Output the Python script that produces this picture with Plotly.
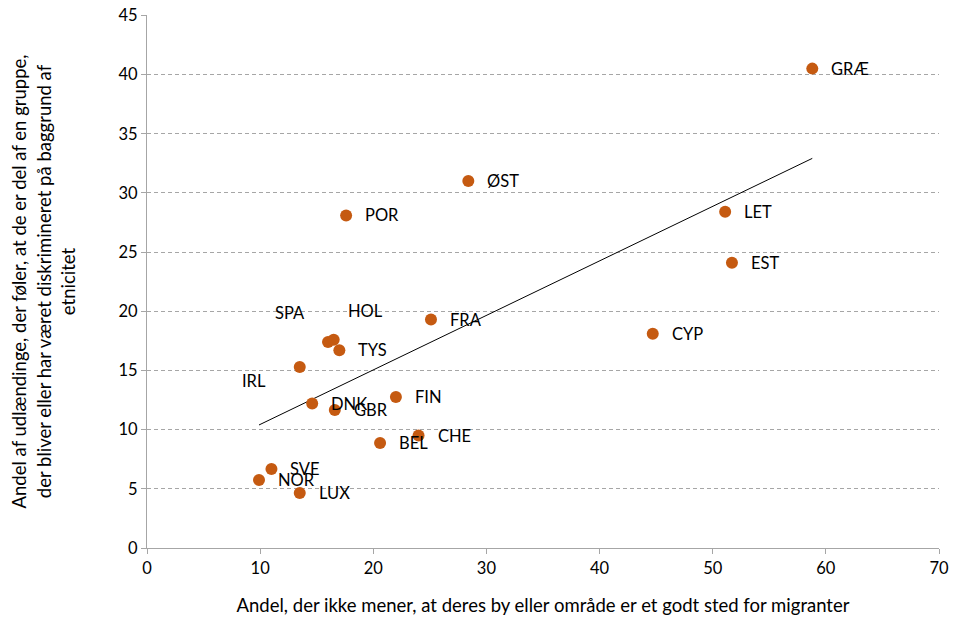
import numpy as np
import plotly.graph_objects as go

countries = ["GRÆ", "ØST", "POR", "LET", "EST", "FRA", "CYP", "SPA", "HOL", "TYS",
             "IRL", "DNK", "GBR", "FIN", "CHE", "BEL", "SVE", "NOR", "LUX"]
x_vals = [58.8, 28.4, 17.6, 51.1, 51.7, 25.1, 44.7, 16.0, 16.5, 17.0,
          13.5, 14.6, 16.6, 22.0, 24.0, 20.6, 11.0, 9.9, 13.5]
y_vals = [40.5, 31.0, 28.1, 28.4, 24.1, 19.3, 18.1, 17.4, 17.6, 16.7,
          15.3, 12.2, 11.65, 12.75, 9.5, 8.87, 6.67, 5.74, 4.64]

x_title = "Andel, der ikke mener, at deres by eller område er et godt sted for migranter"
y_title = ("Andel af udlændinge, der føler, at de er del af en gruppe,<br>"
           "der bliver eller har været diskrimineret på baggrund af<br>etnicitet")

# label offsets (pixels) for the few labels moved away from the default spot
label_shift = {"SPA": (-55, 29), "HOL": (12, 29), "IRL": (-60, -14)}

FONT = "Lato"
FS = 16.5
FS_TITLE = 18.5
COLOR = "#C55A11"
AXIS = "#A6A6A6"

fig = go.Figure()

# linear trend line computed from the data
slope, intercept = np.polyfit(x_vals, y_vals, 1)
tx = np.array([min(x_vals), max(x_vals)])
fig.add_trace(go.Scatter(x=tx, y=slope * tx + intercept, mode="lines",
                         line=dict(color="black", width=1), hoverinfo="skip",
                         showlegend=False))

fig.add_trace(go.Scatter(x=x_vals, y=y_vals, mode="markers", text=countries,
                         marker=dict(color=COLOR, size=12),
                         showlegend=False))

for c, xv, yv in zip(countries, x_vals, y_vals):
    dx, dy = label_shift.get(c, (17, 0))
    fig.add_annotation(x=xv, y=yv, text=c, showarrow=False, xanchor="left",
                       yanchor="middle", xshift=dx, yshift=dy,
                       font=dict(family=FONT, size=FS, color="black"))

fig.update_layout(
    width=961, height=621,
    margin=dict(l=147, r=22, t=15, b=73),
    paper_bgcolor="white", plot_bgcolor="white",
    font=dict(family=FONT, size=FS, color="black"),
    xaxis=dict(range=[0, 70], dtick=10, showgrid=False, zeroline=False,
               automargin=False,
               showline=True, linecolor=AXIS, ticks="outside",
               tickcolor=AXIS, ticklen=5,
               title=dict(text=x_title, font=dict(size=FS_TITLE), standoff=22)),
    yaxis=dict(range=[0, 45.03], tick0=0, dtick=5, showgrid=True, gridcolor=AXIS,
               griddash="4px,3px", gridwidth=1, zeroline=False,
               automargin=False,
               showline=True, linecolor=AXIS, ticks="outside",
               tickcolor=AXIS, ticklen=5,
               title=dict(text=y_title, font=dict(size=FS_TITLE), standoff=38)),
)

# remove the browser's default 8px body margin so the figure sits at (0, 0)
fig.write_html("out.html", config={"displayModeBar": False},
               post_script="document.body.style.margin='0';")
